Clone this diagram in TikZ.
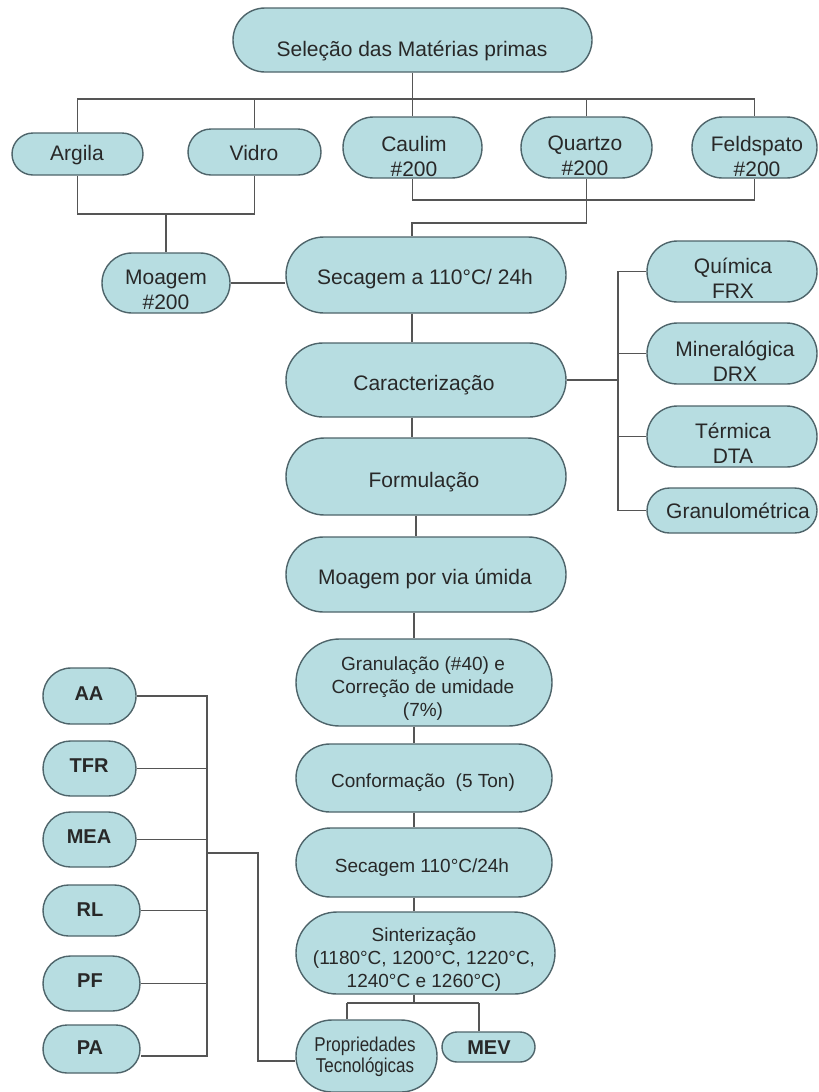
\documentclass[tikz,border=0pt]{standalone}
\usepackage{fontspec}
\setmainfont{Liberation Sans}
\newfontfamily\narrowsans{Liberation Sans}[FakeStretch=0.85]
\usetikzlibrary{shapes.misc}
\definecolor{boxfill}{RGB}{183,221,225}
\definecolor{boxline}{RGB}{78,100,106}
\definecolor{wire}{RGB}{85,85,85}
\definecolor{ink}{RGB}{40,40,40}
\begin{document}
\begin{tikzpicture}[x=1bp,y=-1bp,
  stage/.style={rounded rectangle, draw=boxline, fill=boxfill, line width=1.4bp, inner sep=0pt},
  lbl/.style={text=ink, align=center, inner sep=0pt, font=\fontsize{21bp}{25bp}\selectfont},
  lblsm/.style={text=ink, align=center, inner sep=0pt, font=\fontsize{19bp}{23bp}\selectfont},
  lblb/.style={text=ink, align=center, inner sep=0pt, font=\fontsize{20bp}{24bp}\selectfont\bfseries},
  link/.style={draw=wire, line width=1.7bp}]
\useasboundingbox[fill=white] (0,0) rectangle (819,1092);

% ---------- raw materials ----------
\node[stage, minimum width=359bp, minimum height=64bp] (sel) at (412.5,40) {};
\node[lbl] (sel-t) at (412,51) {Seleção das Matérias primas};

\node[stage, minimum width=131bp, minimum height=42bp] (argila) at (77.5,154) {};
\node[lbl] (argila-t) at (77,155) {Argila};
\node[stage, minimum width=133bp, minimum height=46bp] (vidro) at (254.5,152) {};
\node[lbl] (vidro-t) at (254,153) {Vidro};
\node[stage, minimum width=139bp, minimum height=61bp] (caulim) at (412.5,147.5) {};
\node[lbl] (caulim-t) at (414,156) {Caulim\\\#200};
\node[stage, minimum width=131bp, minimum height=61bp] (quartzo) at (586.5,147.5) {};
\node[lbl] (quartzo-t) at (585,156) {Quartzo\\\#200};
\node[stage, minimum width=125bp, minimum height=61bp] (feld) at (754.5,147.5) {};
\node[lbl] (feld-t) at (757,156) {Feldspato\\\#200};

\node[stage, minimum width=128bp, minimum height=60bp] (moag) at (166,283) {};
\node[lbl] (moag-t) at (166,290) {Moagem\\\#200};

% ---------- main process column ----------
\node[stage, minimum width=280bp, minimum height=76bp] (sec1) at (426,275) {};
\node[lbl] (sec1-t) at (425,279) {Secagem a 110°C/ 24h};
\node[stage, minimum width=280bp, minimum height=74bp] (carac) at (426,380) {};
\node[lbl] (carac-t) at (424,385) {Caracterização};
\node[stage, minimum width=280bp, minimum height=77bp] (form) at (426,476.5) {};
\node[lbl] (form-t) at (424,482) {Formulação};
\node[stage, minimum width=280bp, minimum height=75bp] (moagu) at (426,574.5) {};
\node[lbl] (moagu-t) at (425,579) {Moagem por via úmida};
\node[stage, minimum width=256bp, minimum height=87bp] (gran) at (424,682.5) {};
\node[lblsm] (gran-t) at (423,689) {Granulação (\#40) e\\Correção de umidade\\(7\%)};
\node[stage, minimum width=256bp, minimum height=68bp] (conf) at (424,778) {};
\node[lblsm] (conf-t) at (423,783) {Conformação\ \ (5 Ton)};
\node[stage, minimum width=256bp, minimum height=69bp] (sec2) at (424,862.5) {};
\node[lblsm] (sec2-t) at (422,868) {Secagem 110°C/24h};
\node[stage, minimum width=259bp, minimum height=82bp] (sint) at (425.5,953) {};
\node[lblsm] (sint-t) at (424,960) {Sinterização\\(1180°C, 1200°C, 1220°C,\\1240°C e 1260°C)};

\node[stage, minimum width=141bp, minimum height=72bp] (prop) at (366.5,1056) {};
\node[text=ink, align=center, inner sep=0pt, font=\fontsize{20bp}{21bp}\narrowsans] (prop-t) at (365,1057) {Propriedades\\Tecnológicas};
\node[stage, minimum width=93bp, minimum height=30bp] (mev) at (488.5,1047) {};
\node[lblb] (mev-t) at (489,1048) {MEV};

% ---------- characterisation methods ----------
\node[stage, minimum width=170bp, minimum height=61bp] (quim) at (732,271.5) {};
\node[lbl] (quim-t) at (733,278) {Química\\FRX};
\node[stage, minimum width=170bp, minimum height=61bp] (miner) at (732,353.5) {};
\node[lbl] (miner-t) at (735,361) {Mineralógica\\DRX};
\node[stage, minimum width=170bp, minimum height=61bp] (term) at (732,436.5) {};
\node[lbl] (term-t) at (733,443) {Térmica\\DTA};
\node[stage, minimum width=170bp, minimum height=45bp] (granu) at (732,510.5) {};
\node[lbl] (granu-t) at (738,511) {Granulométrica};

% ---------- technological properties ----------
\node[stage, minimum width=93bp, minimum height=56bp] (aa) at (89.5,696) {};
\node[lblb] (aa-t) at (89,694) {AA};
\node[stage, minimum width=93bp, minimum height=55bp] (tfr) at (89.5,768.5) {};
\node[lblb] (tfr-t) at (89,766) {TFR};
\node[stage, minimum width=93bp, minimum height=55bp] (mea) at (89.5,839.5) {};
\node[lblb] (mea-t) at (89,837) {MEA};
\node[stage, minimum width=97bp, minimum height=51bp] (rl) at (91.5,910.5) {};
\node[lblb] (rl-t) at (90,910) {RL};
\node[stage, minimum width=97bp, minimum height=55bp] (pf) at (91.5,983.5) {};
\node[lblb] (pf-t) at (90,981) {PF};
\node[stage, minimum width=97bp, minimum height=48bp] (pa) at (91.5,1049) {};
\node[lblb] (pa-t) at (90,1048) {PA};

% ---------- junction points ----------
\coordinate (topbus) at (410,99);
\coordinate (j1) at (166,214);
\coordinate (j2) at (586.5,200);
\coordinate (j3) at (586.5,223);
\coordinate (spA) at (412,0);
\coordinate (spB) at (416,0);
\coordinate (spC) at (414,0);
\coordinate (rbus) at (618,0);
\coordinate (sj) at (414,1003);
\coordinate (pj) at (347,1003);
\coordinate (mj) at (479,1003);
\coordinate (lbus) at (207,0);
\coordinate (paC) at ([yshift=-7bp]pa.east);
\coordinate (lb) at (207,853);
\coordinate (lc) at (258,853);
\coordinate (propC) at ([yshift=-5bp]prop.west);

% ---------- connectors ----------
\draw[link] (sel.south) -- (sel.south |- topbus);
\draw[link] (argila.north) -- (argila.north |- topbus) -- (feld.north |- topbus) -- (feld.north);
\draw[link] (vidro.north) -- (vidro.north |- topbus);
\draw[link] (caulim.north) -- (caulim.north |- topbus);
\draw[link] (quartzo.north) -- (quartzo.north |- topbus);

\draw[link] (argila.south) |- (j1) -| (vidro.south);
\draw[link] (j1) -- (moag.north);

\draw[link] (caulim.south) |- (j2) -| (feld.south);
\draw[link] (quartzo.south) -- (j3) -| (sec1.north -| spA);
\draw[link] (moag.east) -- (moag.east -| sec1.west);

\draw[link] (sec1.south -| spA) -- (carac.north -| spA);
\draw[link] (carac.south -| spA) -- (form.north -| spA);
\draw[link] (form.south -| spB) -- (moagu.north -| spB);
\draw[link] (moagu.south -| spC) -- (gran.north -| spC);
\draw[link] (gran.south -| spC) -- (conf.north -| spC);
\draw[link] (conf.south -| spC) -- (sec2.north -| spC);
\draw[link] (sec2.south -| spC) -- (sint.north -| spC);

\draw[link] (carac.east) -- (carac.east -| rbus);
\draw[link] (quim.west) -| (granu.west -| rbus) -- (granu.west);
\draw[link] (miner.west) -- (miner.west -| rbus);
\draw[link] (term.west) -- (term.west -| rbus);

\draw[link] (sint.south -| spC) -- (sj);
\draw[link] (pj) -- (mj);
\draw[link] (pj) -- (pj |- prop.north);
\draw[link] (mj) -- (mj |- mev.north);

\draw[link] (aa.east) -| (paC -| lbus) -- (paC);
\draw[link] (tfr.east) -- (tfr.east -| lbus);
\draw[link] (mea.east) -- (mea.east -| lbus);
\draw[link] (rl.east) -- (rl.east -| lbus);
\draw[link] (pf.east) -- (pf.east -| lbus);
\draw[link] (lb) -- (lc) |- (propC);
\end{tikzpicture}
\end{document}
